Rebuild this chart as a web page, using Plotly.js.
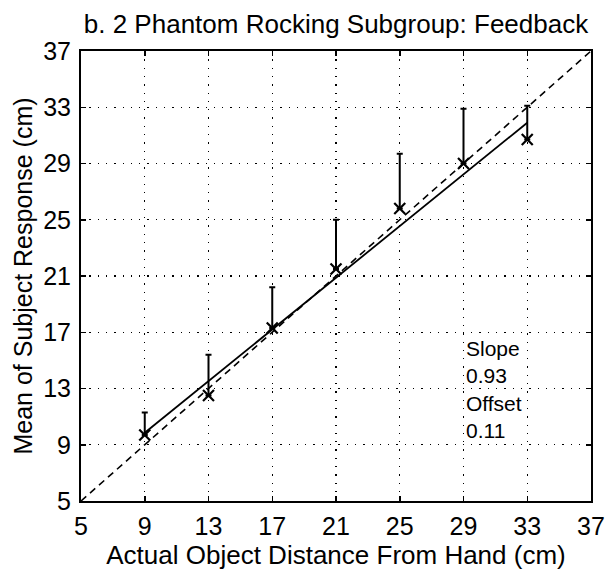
<!DOCTYPE html>
<html>
<head>
<meta charset="utf-8">
<script src="https://cdn.plot.ly/plotly-3.0.1.min.js"></script>
<style>html,body{margin:0;padding:0;background:#fff;}#chart{width:607px;height:577px;}</style>
</head>
<body>
<div id="chart"></div>
<script>
// Data
const distances = [9, 13, 17, 21, 25, 29, 33];
const meanResponse = [9.7, 12.5, 17.3, 21.5, 25.8, 29.0, 30.7];
const errorTop = [11.3, 15.4, 20.2, 25.0, 29.7, 32.9, 33.1];
const fitX = [9, 33];
const fitY = [9.85, 31.9];
const unityX = [5, 37];
const unityY = [5, 37];
const tickValues = [5, 9, 13, 17, 21, 25, 29, 33, 37];
const slopeText = "0.93";
const offsetText = "0.11";

const errUpper = meanResponse.map((m, i) => errorTop[i] - m);
const errLower = meanResponse.map(() => 0);

const FONT = "Liberation Sans, Arial, Helvetica, sans-serif";

const traces = [
  {
    x: unityX, y: unityY, mode: "lines", type: "scatter",
    line: {color: "#000", width: 1.6, dash: "7px,5px"},
    hoverinfo: "skip", showlegend: false
  },
  {
    x: fitX, y: fitY, mode: "lines", type: "scatter",
    line: {color: "#000", width: 1.8},
    showlegend: false
  },
  {
    x: distances, y: meanResponse, mode: "markers", type: "scatter",
    marker: {symbol: "x-thin", size: 11, color: "#000", line: {color: "#000", width: 2.2}},
    error_y: {type: "data", symmetric: false, array: errUpper, arrayminus: errLower,
              color: "#000", thickness: 2, width: 3},
    showlegend: false
  }
];

const axisCommon = {
  range: [5, 37],
  tickmode: "array",
  tickvals: tickValues,
  ticktext: tickValues.map(String),
  showgrid: true,
  gridcolor: "#000",
  gridwidth: 1.3,
  griddash: "1.3px,7px",
  zeroline: false,
  showline: true,
  linecolor: "#000",
  linewidth: 2,
  mirror: "ticks",
  ticks: "inside",
  ticklen: 5,
  tickwidth: 1.5,
  tickcolor: "#000",
  tickfont: {family: FONT, size: 25, color: "#000"}
};

const layout = {
  width: 607, height: 577,
  margin: {l: 81, r: 16, t: 51, b: 76},
  paper_bgcolor: "#fff", plot_bgcolor: "#fff",
  title: {
    text: "b. 2 Phantom Rocking Subgroup: Feedback",
    font: {family: FONT, size: 26, color: "#000"},
    xref: "paper", x: 0.5, xanchor: "center",
    yref: "container", y: 1 - 24 / 577, yanchor: "middle"
  },
  xaxis: Object.assign({}, axisCommon, {
    ticklabelstandoff: 2,
    title: {text: "Actual Object Distance From Hand (cm)", font: {family: FONT, size: 26, color: "#000"}, standoff: 3}
  }),
  yaxis: Object.assign({}, axisCommon, {
    ticklabelstandoff: 3,
    title: {text: "Mean of Subject Response (cm)", font: {family: FONT, size: 25, color: "#000"}, standoff: 3}
  }),
  annotations: [{
    x: 29.0, y: 12.9, xref: "x", yref: "y",
    xanchor: "left", yanchor: "middle", align: "left",
    showarrow: false,
    text: "Slope<br>" + slopeText + "<br>Offset<br>" + offsetText,
    font: {family: FONT, size: 21, color: "#000"}
  }],
  showlegend: false
};

Plotly.newPlot("chart", traces, layout, {displayModeBar: false, staticPlot: true});
</script>
</body>
</html>
